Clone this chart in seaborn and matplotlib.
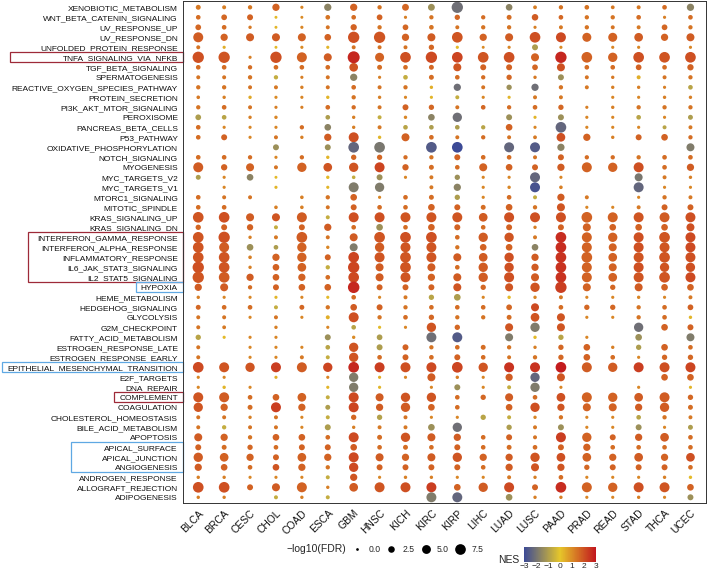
import seaborn as sns
import matplotlib.pyplot as plt
import matplotlib as mpl
import pandas as pd
from matplotlib.colors import LinearSegmentedColormap, Normalize
from matplotlib.patches import Rectangle
from matplotlib.transforms import blended_transform_factory

cancers = ["BLCA", "BRCA", "CESC", "CHOL", "COAD", "ESCA", "GBM", "HNSC", "KICH", "KIRC",
           "KIRP", "LIHC", "LUAD", "LUSC", "PAAD", "PRAD", "READ", "STAD", "THCA", "UCEC"]

# top to bottom, as shown on the y axis
pathways = [
    "XENOBIOTIC_METABOLISM", "WNT_BETA_CATENIN_SIGNALING", "UV_RESPONSE_UP", "UV_RESPONSE_DN",
    "UNFOLDED_PROTEIN_RESPONSE", "TNFA_SIGNALING_VIA_NFKB", "TGF_BETA_SIGNALING", "SPERMATOGENESIS",
    "REACTIVE_OXYGEN_SPECIES_PATHWAY", "PROTEIN_SECRETION", "PI3K_AKT_MTOR_SIGNALING", "PEROXISOME",
    "PANCREAS_BETA_CELLS", "P53_PATHWAY", "OXIDATIVE_PHOSPHORYLATION", "NOTCH_SIGNALING",
    "MYOGENESIS", "MYC_TARGETS_V2", "MYC_TARGETS_V1", "MTORC1_SIGNALING", "MITOTIC_SPINDLE",
    "KRAS_SIGNALING_UP", "KRAS_SIGNALING_DN", "INTERFERON_GAMMA_RESPONSE", "INTERFERON_ALPHA_RESPONSE",
    "INFLAMMATORY_RESPONSE", "IL6_JAK_STAT3_SIGNALING", "IL2_STAT5_SIGNALING", "HYPOXIA",
    "HEME_METABOLISM", "HEDGEHOG_SIGNALING", "GLYCOLYSIS", "G2M_CHECKPOINT", "FATTY_ACID_METABOLISM",
    "ESTROGEN_RESPONSE_LATE", "ESTROGEN_RESPONSE_EARLY", "EPITHELIAL_MESENCHYMAL_TRANSITION",
    "E2F_TARGETS", "DNA_REPAIR", "COMPLEMENT", "COAGULATION", "CHOLESTEROL_HOMEOSTASIS",
    "BILE_ACID_METABOLISM", "APOPTOSIS", "APICAL_SURFACE", "APICAL_JUNCTION", "ANGIOGENESIS",
    "ANDROGEN_RESPONSE", "ALLOGRAFT_REJECTION", "ADIPOGENESIS",
]

N = None
# -log10(FDR), one row per pathway, columns follow `cancers`
neg_log_fdr = [
    [1.2, 0.6, 0.8, 3.2, 0.2, 3.2, 3.2, 0.8, 2.8, 2.8, 8.5, N, 2.6, 0.5, 0.8, 1.0, 0.5, 0.6, 1.0, 3.2],
    [1.0, 1.8, 2.0, 0.1, 0.1, 1.0, 1.0, 1.8, 0.2, 0.8, 1.5, 0.8, 1.2, 2.5, 1.0, 0.8, 0.8, 1.0, 0.2, 1.0],
    [1.8, 1.0, 0.3, 0.1, 0.2, 0.6, 2.3, 0.8, 1.8, 1.0, 0.6, 0.8, 0.8, 0.2, 0.6, 0.8, 0.6, 0.6, 1.8, 0.8],
    [6.5, 3.2, 4.0, 4.0, 4.0, 2.6, 8.5, 8.5, 3.2, 4.0, 7.5, 3.2, 4.0, 7.5, 6.5, 5.2, 5.2, 4.8, 3.2, 4.0],
    [0.6, 0.2, N, 0.1, 0.2, 0.2, 0.6, 0.6, 0.6, 1.5, 0.2, 0.1, 0.2, 2.0, 0.2, N, 0.2, 0.2, N, 0.2],
    [8.5, 8.5, 0.2, 8.5, 6.5, 4.0, 9.6, 5.2, 7.5, 8.5, 7.5, 7.5, 7.5, 4.0, 8.5, 7.5, 5.6, 7.5, 7.5, 7.5],
    [1.0, 1.0, 0.8, 1.0, 1.0, 1.0, 4.8, 1.2, 1.0, 1.2, 4.0, 2.0, 2.0, 1.8, 4.0, 1.0, 1.0, 1.8, 1.0, 2.3],
    [0.6, 0.6, 0.8, 0.8, 0.2, 0.6, 3.2, 0.2, 1.0, 1.2, 1.0, 0.8, 1.5, 0.3, 2.0, 0.6, 0.3, 0.6, 0.6, 0.8],
    [0.8, 0.8, 0.6, 0.6, 0.3, 0.6, 1.0, 0.6, 0.8, 0.3, 3.2, 0.6, 1.5, 3.2, 0.8, 0.6, 0.3, 0.3, 0.2, 1.0],
    [0.4, 0.3, 0.3, 0.2, 0.2, 0.3, 0.8, 0.3, 0.2, 0.2, 0.6, 0.2, 0.2, 0.6, 0.6, N, 0.2, 0.2, 0.3, 0.3],
    [0.8, 1.0, 0.6, 0.2, 0.2, 1.0, 0.8, 0.6, 2.0, 1.5, 0.6, 1.0, 0.8, 1.0, 1.5, 0.2, 0.3, 0.8, 0.8, 0.8],
    [1.8, 1.0, 0.3, 0.3, N, 1.0, 0.3, 0.6, 0.3, 2.6, 5.6, N, 2.0, 0.2, 2.0, 0.2, 0.2, 1.0, 0.2, 1.2],
    [1.0, 0.2, 0.2, 0.2, 0.8, 2.6, 0.3, 0.6, 1.0, 1.0, 1.0, 0.8, 2.6, 0.2, 7.5, 0.2, 0.2, 0.2, 0.6, 0.6],
    [1.0, 2.0, 0.2, 0.6, 0.3, 3.2, 6.5, 0.3, 4.0, 1.0, 0.6, 0.8, 0.6, 0.5, 4.8, 3.2, 0.3, 2.0, 2.6, 0.8],
    [N, N, N, 2.0, N, 2.0, 7.5, 7.5, N, 7.5, 7.5, N, 6.5, 6.5, 3.2, N, N, N, N, 4.0],
    [1.0, 1.0, 0.8, 0.2, 0.8, 0.3, 1.5, 1.5, 0.8, 0.8, 2.0, 1.0, 1.0, 0.6, 2.0, 0.8, 0.8, 0.8, 1.0, 1.0],
    [6.5, 2.3, 4.0, 0.6, 5.6, 4.8, 5.6, 6.5, 2.3, 1.2, 1.0, 4.0, 2.6, 2.0, 3.2, 6.5, 5.6, 6.5, 1.0, 3.2],
    [1.2, 0.2, 2.6, 0.1, N, 0.3, 0.4, 2.0, 0.2, 0.6, 1.5, 0.2, 0.2, 6.5, 0.2, N, N, 4.0, 0.6, 0.3],
    [N, 0.2, N, 0.2, N, 0.2, 6.5, 5.6, N, 0.6, 3.2, 0.2, 0.3, 6.5, 0.4, N, N, 6.5, 0.2, 0.2],
    [1.0, 0.6, 0.6, N, 0.4, 0.8, 2.6, 0.2, 1.0, 1.2, 1.5, 0.2, 1.0, 0.6, 3.2, 0.6, N, 0.2, 0.8, 0.6],
    [1.0, 1.0, N, 0.4, 0.4, 0.6, 2.0, 1.0, 1.0, 2.6, 2.0, 1.2, 2.6, 0.8, 4.0, 0.2, 0.2, 0.6, 2.0, 2.0],
    [7.5, 7.5, 4.0, 4.0, 6.5, 0.6, 6.5, 6.5, 6.5, 6.5, 6.5, 4.8, 6.5, 6.5, 6.5, 7.5, 6.5, 6.5, 6.5, 6.5],
    [1.5, 2.0, 2.3, 0.6, 2.0, 3.2, 1.0, 2.6, 1.0, 2.6, 2.0, 1.0, 2.0, 0.3, 2.0, 4.0, 2.6, 2.6, 2.6, 4.0],
    [7.5, 8.5, 0.3, 0.6, 7.5, 0.6, 4.0, 7.5, 7.5, 7.5, 1.0, 5.6, 5.6, 0.6, 7.5, 6.5, 5.6, 6.5, 7.5, 6.5],
    [7.5, 6.5, 2.6, 1.0, 5.6, 0.3, 4.0, 5.6, 6.5, 6.5, 0.8, 2.6, 2.6, 2.6, 7.5, 6.5, 4.0, 6.5, 6.5, 6.5],
    [7.5, 7.5, 0.4, 3.2, 5.6, 2.0, 7.5, 6.5, 7.5, 6.5, 4.0, 4.8, 5.6, 3.2, 7.5, 7.5, 4.8, 6.5, 7.5, 6.5],
    [8.5, 7.5, 0.3, 2.6, 4.8, 0.8, 8.5, 4.0, 7.5, 4.0, 1.0, 5.6, 5.6, 3.2, 7.5, 6.5, 4.0, 6.5, 5.6, 5.6],
    [8.5, 7.5, 3.2, 2.6, 3.2, 1.0, 7.5, 4.0, 6.5, 3.2, 4.0, 5.6, 6.5, 4.0, 7.5, 6.5, 4.8, 6.5, 7.5, 6.5],
    [3.2, 4.0, 0.8, 2.0, 2.6, 2.6, 8.8, 2.0, 2.0, 2.0, 4.0, 1.5, 4.0, 5.6, 8.5, 4.0, 1.5, 4.0, 2.6, 2.6],
    [0.3, 0.2, 0.2, 0.2, 0.2, 0.2, 1.0, 0.2, 0.6, 1.5, 2.6, 0.2, 0.3, 0.3, 0.6, 0.2, 0.2, 0.3, 0.2, 0.6],
    [1.2, 1.0, 1.0, 0.6, 1.2, 0.8, 2.6, 2.0, 0.8, 1.0, 1.0, 1.0, 1.8, 4.0, 1.0, 1.5, 1.5, 0.8, 1.0, 1.8],
    [0.6, 0.6, 0.2, 0.6, 0.2, 0.6, 6.5, 0.8, 1.0, 1.5, 0.8, 0.8, 1.2, 4.8, 4.0, 0.2, 0.2, 0.8, 1.0, 0.3],
    [0.6, 0.5, N, 0.3, N, 0.2, 1.0, 0.2, 0.2, 5.6, 1.5, N, 4.0, 5.6, 4.0, N, N, 5.6, 2.6, 2.0],
    [1.5, 0.2, 0.2, 0.2, N, 2.0, 0.3, 1.8, N, 6.5, 6.5, N, 4.0, 0.3, 1.5, 0.2, N, 2.6, N, 4.0],
    [0.6, N, 0.2, 0.2, 0.2, 1.0, 5.6, 2.0, 2.0, 0.8, 1.0, 1.2, 0.8, 0.3, 1.5, 2.6, 0.3, 1.5, 2.6, 1.0],
    [0.6, N, 0.2, 0.2, 0.6, 0.6, 5.6, 1.0, 2.0, 1.0, 2.0, 1.0, 0.6, 0.8, 1.5, 2.6, 1.0, 0.2, 1.5, 1.5],
    [7.5, 6.5, 5.6, 6.5, 6.5, 5.6, 7.5, 6.5, 6.5, 6.5, 7.5, 5.6, 6.5, 6.5, 7.5, 6.5, 5.6, 6.5, 6.5, 6.5],
    [0.2, 0.2, N, 0.2, N, 0.2, 5.6, 0.2, 0.2, 4.0, 0.3, 0.2, 3.2, 5.6, 4.0, N, N, N, 2.6, 2.6],
    [0.2, 0.3, 0.2, N, N, 0.2, 5.6, 0.2, N, 0.2, 2.0, 0.2, 0.6, 5.6, 0.2, N, N, 0.2, N, 0.2],
    [6.5, 6.5, 1.0, 2.6, 4.8, 0.6, 6.5, 4.0, 5.6, 5.6, 1.0, 1.5, 4.0, 1.0, 4.8, 6.5, 5.6, 4.8, 6.5, 1.5],
    [5.6, 3.2, 1.2, 6.5, 3.2, 1.2, 6.5, 3.2, 5.6, 2.6, 1.0, N, 2.6, 5.6, 3.2, 4.0, 4.0, 3.2, 5.6, 1.2],
    [0.6, 0.6, 0.3, 0.6, 0.2, 0.6, 1.5, 1.5, 0.6, 0.2, 0.2, 1.5, 0.6, 0.3, 0.8, 0.2, 0.2, 1.0, 0.8, 0.6],
    [0.6, 0.8, 0.6, 0.6, 0.2, 2.0, 0.3, 0.6, 0.6, 2.6, 5.6, N, 1.5, 0.6, 2.0, 0.2, 0.2, 2.0, 0.2, 1.2],
    [4.0, 3.2, 0.8, 2.6, 2.6, 1.0, 6.5, 1.2, 5.6, 4.0, 3.2, 1.0, 2.0, 0.6, 6.5, 5.6, 2.0, 3.2, 4.8, 1.0],
    [2.0, 1.2, 1.5, 1.0, 2.0, 2.0, 2.6, 1.0, 1.2, 1.0, 2.0, 1.0, 1.2, 1.0, 2.0, 3.2, 1.0, 1.0, 1.0, 1.0],
    [5.6, 4.8, 3.2, 2.0, 4.8, 3.2, 6.5, 4.0, 3.2, 4.0, 5.6, 3.2, 3.2, 5.6, 4.8, 4.8, 3.2, 4.8, 3.2, 4.8],
    [3.2, 2.6, 1.0, 2.6, 3.2, 0.8, 5.6, 2.0, 2.0, 2.0, 2.0, 1.0, 3.2, 4.0, 3.2, 1.5, 2.0, 2.0, 2.0, 1.0],
    [0.3, 0.3, 0.2, 0.2, 0.2, 0.6, 3.2, 0.2, 0.3, 0.3, 0.2, 0.2, 0.6, 0.3, 1.0, 0.2, 0.2, 0.2, 0.3, 0.3],
    [7.5, 7.5, 2.0, 4.0, 6.5, 0.3, 4.8, 6.5, 6.5, 6.5, 2.6, 5.6, 6.5, 2.0, 7.5, 6.5, 5.6, 6.5, 6.5, 2.6],
    [0.3, 0.3, N, 0.6, 0.3, 0.6, N, N, N, 6.5, 6.5, N, 2.6, 0.3, 0.3, 0.2, 0.2, 0.3, 0.2, 2.0],
]

# normalised enrichment score, same layout
nes = [
    [1.3, 1.2, 1.3, 1.7, 1.1, -1.6, 1.7, 1.4, 1.6, -1.3, -2.1, N, -1.6, 1.2, 1.4, 1.4, 1.3, 1.3, 1.5, -1.6],
    [1.5, 1.6, 1.7, 0.2, 1.0, 1.4, 1.5, 1.7, 1.2, 1.4, 1.6, 1.5, 1.5, 1.8, 1.6, 1.4, 1.4, 1.5, 1.2, 1.5],
    [1.6, 1.5, 1.3, 0.3, 1.1, 1.4, 1.7, 1.4, 1.6, 1.4, 1.4, 1.4, 1.4, 1.2, 1.3, 1.4, 1.4, 1.3, 1.6, 1.4],
    [1.8, 1.7, 1.8, 1.8, 1.7, 1.7, 2.0, 1.9, 1.7, 1.8, 1.9, 1.7, 1.8, 2.0, 2.1, 1.7, 1.7, 1.8, 1.7, 1.8],
    [1.4, 0.4, N, 0.2, 1.0, 0.3, 1.4, 1.4, 1.4, 1.6, 0.2, 1.0, 1.1, -1.0, 1.0, N, 1.1, 1.1, N, 1.1],
    [2.0, 1.9, 1.2, 2.0, 1.7, 1.8, 2.7, 1.7, 2.0, 2.1, 2.2, 1.9, 2.0, 1.7, 2.7, 1.7, 1.7, 2.0, 1.9, 2.0],
    [1.5, 1.5, 1.5, 1.5, 1.5, 1.5, 1.9, 1.5, 1.5, 1.6, 1.9, 1.7, 1.7, 1.6, 2.0, 1.5, 1.5, 1.7, 1.5, 1.7],
    [1.4, 1.4, 1.4, -0.6, 1.2, 1.4, -1.6, 1.2, -0.6, 1.5, 1.5, 1.5, 1.6, 1.3, -1.3, 1.4, 1.3, 0.4, 1.4, 1.4],
    [1.4, 1.4, 1.4, 1.3, 1.2, 1.4, 1.5, 1.4, 1.4, 0.4, -2.1, 1.4, -1.3, -2.1, 1.4, 1.3, 1.2, 1.2, 1.2, -0.8],
    [1.3, 1.2, 0.5, 1.0, 1.1, 0.3, 1.4, 1.2, 1.1, 0.3, -0.6, 1.1, 0.3, 1.3, 1.3, N, 1.1, 1.1, 1.2, 1.2],
    [1.4, 1.5, 1.4, 1.2, 1.2, 1.5, 1.5, 1.4, 1.7, 1.6, 1.4, 1.6, 1.5, 1.5, 1.6, 1.2, 1.2, 1.4, 1.4, 1.4],
    [-1.0, -0.8, 1.2, 1.1, N, -1.0, 1.2, -0.6, 1.1, -1.6, -2.1, N, -1.3, 0.3, -1.3, 1.1, 1.1, -0.8, 1.1, -1.0],
    [1.5, 1.1, 1.1, 1.1, 1.5, -1.6, 1.2, 1.3, -0.8, -1.0, -1.0, -0.8, 1.7, 1.1, -2.3, 1.1, 1.1, 1.1, -0.8, 1.3],
    [1.5, 1.7, 1.1, 1.4, 1.2, 1.8, 2.0, 0.3, 1.7, 1.5, 1.4, 1.5, 1.4, 1.3, 2.0, 1.7, 1.2, 1.7, 1.7, 1.5],
    [N, N, N, -1.3, N, -1.3, -2.3, -1.9, N, -2.6, -3.0, N, -2.3, -2.6, -1.6, N, N, N, N, -1.8],
    [1.5, 1.5, 1.5, 1.1, 1.5, 0.3, 1.6, 1.6, 1.5, 1.4, 1.7, 1.5, 1.5, 1.4, 1.7, 1.5, 1.5, 1.4, 1.5, 1.5],
    [1.8, 1.7, 1.7, 1.4, 1.7, 1.9, 1.9, 2.2, 1.7, 1.5, 1.5, 1.7, 1.7, 1.7, 1.8, 1.7, 1.7, 2.0, 1.5, 1.8],
    [-1.0, 1.1, -1.6, 0.2, N, 0.2, -0.6, -1.3, 1.1, 1.3, -1.3, 1.1, 1.1, -2.3, 1.1, N, N, -1.9, 1.3, 1.2],
    [N, 1.1, N, 0.3, N, 0.3, -1.8, -1.8, N, 1.3, -1.6, 1.1, 1.1, -2.8, 1.2, N, N, -2.3, 1.1, 1.1],
    [1.5, 1.4, 1.4, N, 1.2, 1.4, 1.7, 1.1, 1.5, 1.5, -1.0, 1.1, 1.5, -0.6, 1.8, 1.3, N, 1.1, 1.4, 1.3],
    [1.5, 1.5, N, 1.2, 1.2, 1.4, 1.7, 1.5, 1.5, 1.7, 1.7, 1.5, 1.7, 1.4, 1.9, 1.1, 1.1, 1.3, 1.7, 1.7],
    [1.9, 2.0, 1.8, 1.9, 1.8, -0.6, 2.0, 2.0, 1.9, 1.9, 1.9, 1.8, 2.0, 2.0, 2.0, 1.7, 1.7, 1.9, 1.8, 2.0],
    [1.6, 1.7, 1.7, -0.6, 1.7, 1.8, 1.5, -1.3, 1.5, 1.7, 1.7, 1.5, 1.7, 1.2, 1.7, 1.7, 1.7, 1.7, 1.7, 2.0],
    [1.9, 2.0, 1.2, 1.3, 1.8, 1.4, 1.8, 1.9, 2.0, 2.0, 1.5, 1.8, 1.9, 1.3, 2.6, 1.7, 1.7, 2.0, 1.9, 2.1],
    [1.9, 1.8, -1.3, -1.0, 1.7, 1.1, -1.8, 1.8, 1.9, 1.9, 1.4, 1.7, 1.7, -1.6, 2.6, 1.7, 1.7, 2.0, 1.9, 2.1],
    [1.9, 1.9, 1.2, 1.7, 1.7, 1.7, 2.2, 1.9, 1.9, 1.9, 1.8, 1.8, 2.0, 1.8, 2.5, 1.7, 1.7, 1.9, 1.9, 2.0],
    [2.0, 1.9, 1.2, 1.7, 1.7, -0.6, 2.2, 1.8, 1.9, 1.8, 1.5, 1.8, 2.0, 1.8, 2.5, 1.7, 1.7, 2.0, 1.9, 2.0],
    [1.9, 1.8, 1.8, 1.7, 1.7, 1.5, 2.1, 1.8, 1.9, 1.7, 1.8, 1.8, 2.0, 1.8, 2.5, 1.7, 1.7, 1.9, 1.9, 2.1],
    [1.8, 1.8, 1.5, 1.7, 1.7, 1.7, 2.7, 1.7, 1.7, 1.7, 1.9, 1.6, 1.9, 1.9, 2.3, 1.7, 1.6, 1.8, 1.7, 1.7],
    [1.2, 1.1, 1.1, 0.3, 1.1, 0.2, 1.5, 1.1, 1.3, -0.8, -1.0, 1.1, 0.2, 1.1, 1.3, 1.1, 1.1, 1.1, 1.1, 1.3],
    [1.6, 1.5, 1.5, -0.6, 1.6, 1.4, 1.8, 1.7, 1.4, 1.5, 1.5, 1.5, 1.6, 2.1, 1.5, 1.6, 1.6, 1.4, 1.5, 1.7],
    [1.4, 1.4, 1.1, 1.4, 1.1, 0.4, 2.0, 1.4, 1.5, 1.6, 1.4, 1.4, 1.5, 1.9, 1.9, 1.1, 1.1, 1.4, 1.5, 0.3],
    [1.4, 1.3, N, 1.2, N, 1.1, -0.8, 0.2, 1.1, 1.9, 1.6, N, 1.9, -1.8, 1.9, N, N, -2.1, 1.7, 1.7],
    [-0.8, 0.2, 1.1, 1.1, N, -1.3, 1.0, -1.0, N, -2.1, -2.6, N, -1.8, 0.2, -0.8, 1.1, N, -1.3, N, -1.8],
    [1.4, N, 1.1, 1.1, 1.1, -0.8, 1.9, -1.0, 1.7, 1.4, 1.5, 1.5, 1.4, 1.2, 1.6, 1.7, 1.2, -1.0, 1.7, 1.5],
    [1.4, N, 1.1, 1.1, 1.3, -0.6, 1.9, 1.5, 1.7, 1.5, 1.7, 1.5, 1.4, 1.4, 1.6, 1.7, 1.5, 1.1, 1.6, 1.6],
    [2.1, 1.9, 1.9, 2.3, 1.8, 2.2, 2.7, 2.3, 2.0, 2.1, 2.2, 1.9, 2.5, 2.5, 2.9, 1.8, 1.8, 2.3, 2.0, 2.2],
    [1.1, 1.1, N, 0.4, N, 1.1, -1.8, 0.4, 1.1, 1.8, 1.2, 1.1, 1.8, -2.3, 1.9, N, N, N, 1.7, 1.7],
    [1.1, 0.3, 1.1, N, N, 0.3, -1.8, 0.3, N, 1.1, -1.3, 1.1, -0.6, -1.8, 1.1, N, N, 1.1, N, 0.3],
    [1.9, 1.8, 1.5, 1.7, 1.7, -0.6, 2.1, 1.8, 1.9, 1.9, 1.5, 1.6, 1.8, 1.5, 2.0, 1.7, 1.7, 1.8, 1.8, 1.6],
    [1.9, 1.7, 1.5, 2.3, 1.7, -1.0, 2.2, 1.8, 1.8, 1.7, 1.5, N, 1.7, 2.0, 1.9, 1.7, 1.7, 1.8, 1.8, 1.5],
    [1.4, 1.4, 1.2, 1.4, 1.1, -0.6, 1.6, -0.9, 1.4, 1.1, 1.1, -0.8, -0.6, 1.1, 1.4, 1.1, 1.1, -0.8, 1.4, 1.3],
    [1.4, -0.6, 1.4, 1.4, 1.1, -1.0, 1.2, 1.3, 1.3, -1.3, -2.1, N, -1.0, 1.3, -1.3, 1.1, 1.1, -1.3, 1.1, -1.0],
    [1.8, 1.7, 1.4, 1.7, 1.7, 1.5, 2.1, 1.5, 1.9, 1.8, 1.8, 1.5, 1.7, 1.4, 2.3, 1.7, 1.7, 1.8, 1.8, 1.5],
    [1.7, 1.5, 1.6, 1.5, 1.7, 1.7, 1.8, 1.5, 1.5, 1.5, 1.7, 1.5, 1.5, 1.5, 1.7, 1.7, 1.5, 1.5, 1.5, 1.5],
    [1.8, 1.7, 1.7, 1.7, 1.7, 1.7, 2.1, 1.8, 1.7, 1.8, 1.9, 1.7, 1.8, 1.9, 2.0, 1.7, 1.7, 1.8, 1.7, 2.0],
    [1.8, 1.7, 1.5, 1.9, 1.7, 1.4, 2.1, 1.7, 1.7, 1.7, 1.7, 1.5, 1.8, 1.9, 1.9, 1.6, 1.7, 1.7, 1.7, 1.5],
    [1.2, 1.2, 1.1, 1.1, 1.1, -0.6, 1.9, 1.1, 1.2, 1.2, 1.1, 1.1, 1.3, 1.2, 1.5, 1.1, 1.1, 1.1, 1.2, 0.2],
    [2.0, 2.0, 1.7, 1.8, 1.7, 1.2, 1.8, 1.9, 2.0, 2.3, 1.7, 1.8, 2.1, 1.7, 2.6, 1.7, 1.7, 2.0, 1.9, 1.7],
    [1.2, 1.2, N, -0.6, 1.2, -0.6, N, N, N, -1.8, -2.3, N, -1.3, 1.2, 1.2, 1.1, 1.1, 1.2, 1.1, -1.3],
]

# highlighted labels: (first row, last row, left edge in px, colour)
red = "#9E2A38"
blue = "#5FA8E3"
highlight_boxes = [
    ("TNFA_SIGNALING_VIA_NFKB", "TNFA_SIGNALING_VIA_NFKB", 10, red),
    ("INTERFERON_GAMMA_RESPONSE", "IL2_STAT5_SIGNALING", 28, red),
    ("HYPOXIA", "HYPOXIA", 136, blue),
    ("EPITHELIAL_MESENCHYMAL_TRANSITION", "EPITHELIAL_MESENCHYMAL_TRANSITION", 2, blue),
    ("COMPLEMENT", "COMPLEMENT", 114, red),
    ("APICAL_SURFACE", "ANGIOGENESIS", 71, blue),
]

size_breaks = [0.0, 2.5, 5.0, 7.5]

# long table
rows = []
for i, pw in enumerate(pathways):
    for j, ca in enumerate(cancers):
        if neg_log_fdr[i][j] is None:
            continue
        rows.append((j, i, neg_log_fdr[i][j], nes[i][j]))
df = pd.DataFrame(rows, columns=["x", "y", "logfdr", "NES"])

W, H = 708, 576
sns.set_style("white")
plt.rcParams["font.family"] = ["Liberation Sans", "DejaVu Sans"]

cmap = LinearSegmentedColormap.from_list("nes", ["#3C4A96", "#E6C62A", "#C2161E"])
size_range = (3.8, 77.4)
size_norm = (0, 10)

fig = plt.figure(figsize=(W / 100, H / 100), dpi=100)
ax = fig.add_axes([182.7 / W, 1 - 503.3 / H, (706 - 182.7) / W, (503.3 - 1.3) / H])

sns.scatterplot(
    data=df, x="x", y="y",
    hue="NES", palette=cmap, hue_norm=(-3, 3),
    size="logfdr", sizes=size_range, size_norm=size_norm,
    linewidth=0, legend=False, ax=ax,
)

ax.set_xlim(-0.6, len(cancers) - 0.4)
ax.set_ylim(len(pathways) - 0.4, -0.6)
ax.set_xticks(range(len(cancers)))
ax.set_xticklabels(cancers, rotation=45, ha="right", rotation_mode="anchor", fontsize=7.4)
ax.set_yticks(range(len(pathways)))
ax.set_yticklabels(pathways, fontsize=6.0)
ax.set_xlabel("")
ax.set_ylabel("")
ax.tick_params(axis="both", length=2.2, width=0.5, color="#333333", pad=1.2, labelcolor="#111111")
for s in ax.spines.values():
    s.set_visible(True)
    s.set_color("#333333")
    s.set_linewidth(0.7)

# label boxes
trans = blended_transform_factory(fig.transFigure, ax.transData)
for first, last, left_px, col in highlight_boxes:
    i0, i1 = pathways.index(first), pathways.index(last)
    rect = Rectangle((left_px / W, i0 - 0.5), (182.5 - left_px) / W, i1 - i0 + 1.0,
                     transform=trans, fill=False, edgecolor=col, linewidth=0.9, clip_on=False)
    ax.add_patch(rect)

# size legend
leg = fig.add_axes([0, 0, 1, 1])
leg.set_xlim(0, W)
leg.set_ylim(H, 0)
leg.axis("off")
leg.text(346, 549, "\u2212log10(FDR)", ha="right", va="center", fontsize=7.5)
for k, v in enumerate(size_breaks):
    xs = 357 + k * 34.3
    area = size_range[0] + (v - size_norm[0]) / (size_norm[1] - size_norm[0]) * (size_range[1] - size_range[0])
    leg.scatter([xs], [549], s=area, color="black", linewidth=0)
    leg.text(xs + 11.5, 549, f"{v:.1f}", ha="left", va="center", fontsize=6.2)

# NES colour bar
cax = fig.add_axes([524 / W, 1 - 562 / H, 72 / W, 15 / H])
cb = fig.colorbar(mpl.cm.ScalarMappable(norm=Normalize(-3, 3), cmap=cmap), cax=cax,
                  orientation="horizontal", ticks=range(-3, 4))
cb.outline.set_visible(False)
cax.tick_params(labelsize=6.0, length=2.5, width=0.5, direction="in", color="white", pad=1)
fig.text(519 / W, 1 - 560 / H, "NES", ha="right", va="center", fontsize=7.5)

fig.savefig("out.png", dpi=100)
